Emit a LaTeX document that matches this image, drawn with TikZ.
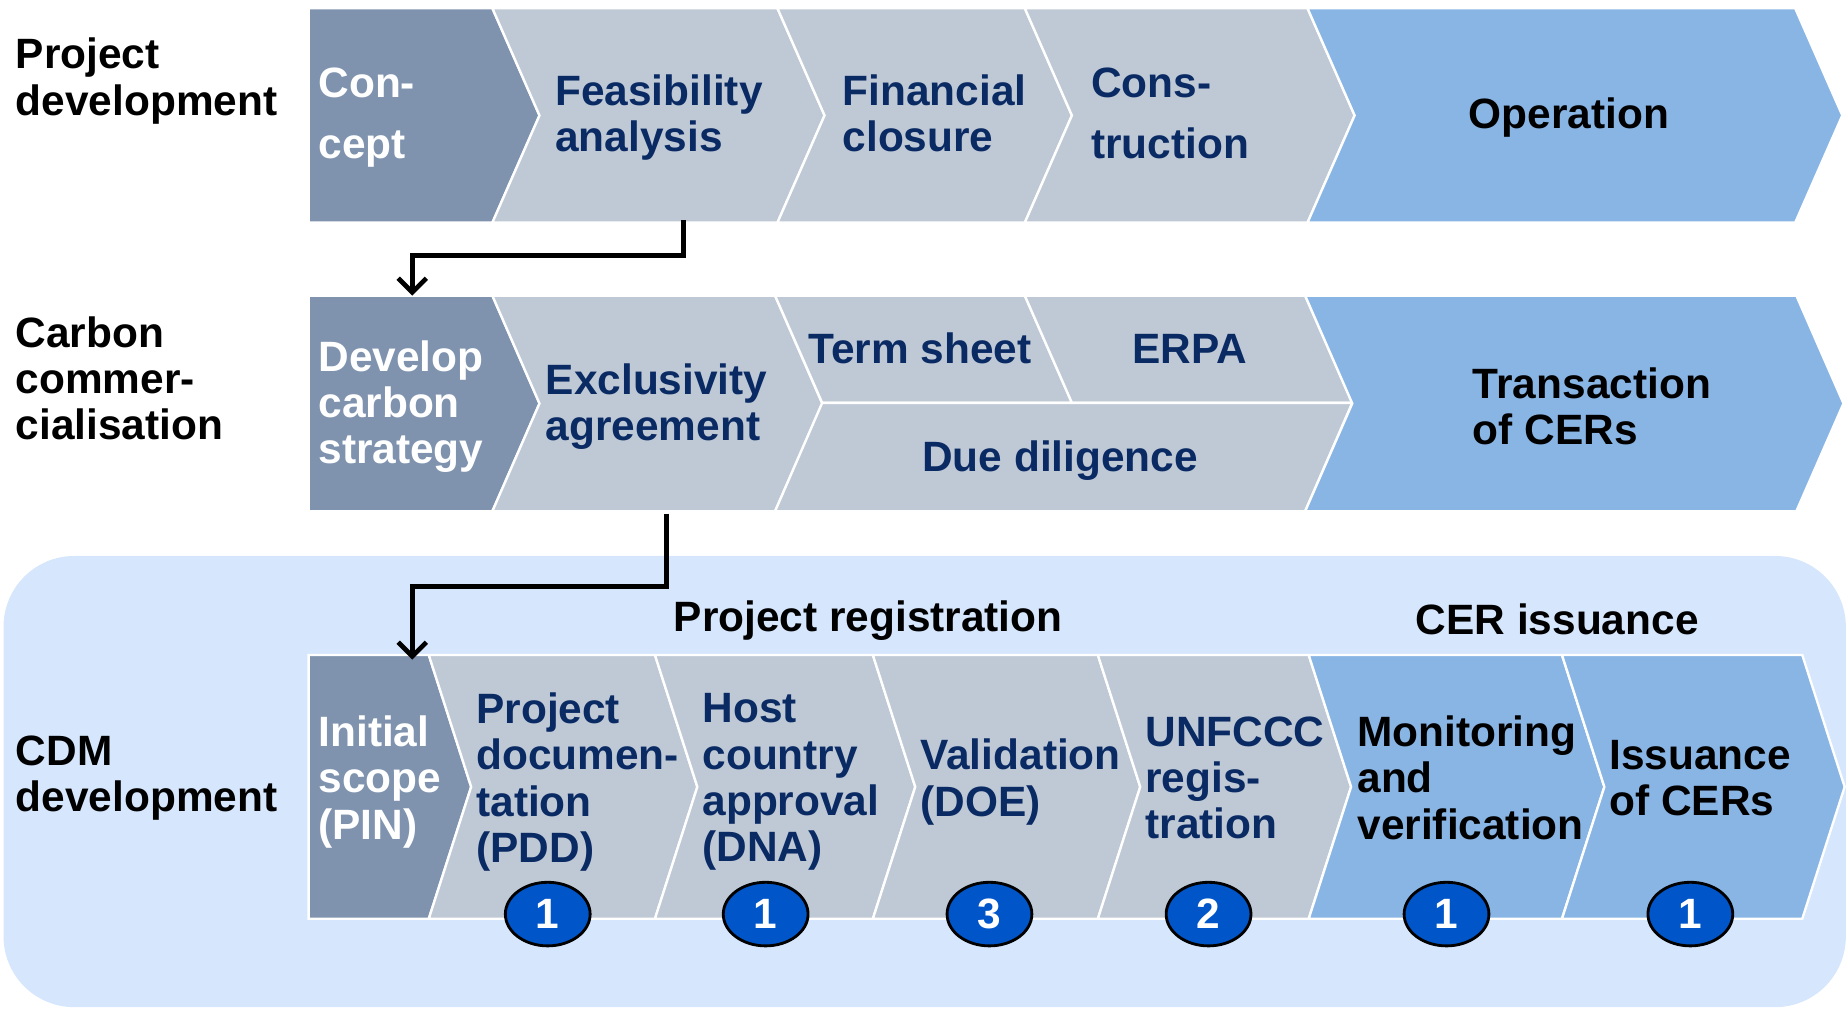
\documentclass[tikz,border=0pt]{standalone}
\usepackage{fontspec}
\setmainfont{Liberation Sans}
\usetikzlibrary{arrows.meta,shapes.geometric}

\definecolor{slate}{RGB}{127,147,175}
\definecolor{mist}{RGB}{191,201,214}
\definecolor{sky}{RGB}{137,181,229}
\definecolor{pale}{RGB}{214,230,252}
\definecolor{navy}{RGB}{10,42,100}
\definecolor{badgeblue}{RGB}{0,85,200}

% chevron with notched left side: style, left x, right x, top y, bottom y
\newcommand{\chev}[5]{\filldraw[#1] (#2,#4) -- (#3,#4) -- ({#3+\dep},{(#4+#5)/2}) -- (#3,#5) -- (#2,#5) -- ({#2+\dep},{(#4+#5)/2}) -- cycle;}
% first chevron of a row, straight left side
\newcommand{\chevfirst}[5]{\filldraw[#1] (#2,#4) -- (#3,#4) -- ({#3+\dep},{(#4+#5)/2}) -- (#3,#5) -- (#2,#5) -- cycle;}

\tikzset{
  stage/.style={draw=white, line width=1pt},
  lbl/.style={align=left, inner sep=0pt, anchor=west,
    execute at begin node=\strut, execute at end node=\strut},
  ondark/.style={lbl, text=white},
  ongrey/.style={lbl, text=navy},
  onblue/.style={lbl, text=black},
  badge/.style={ellipse, fill=badgeblue, draw=black, line width=1.2pt,
    minimum width=36pt, minimum height=27pt, inner sep=0pt, text=white},
  flow/.style={line width=2pt, -{Straight Barb[length=6pt,width=12pt,line width=2pt]}},
}

\begin{document}
\begin{tikzpicture}[x=0.5pt, y=-0.5pt, font=\fontsize{18}{19.6}\selectfont\bfseries]
\useasboundingbox (0,0) rectangle (1568,856);

% CDM panel
\fill[pale, rounded corners=30pt] (3,472) rectangle (1567,855);

% row 1: project development
\def\dep{40}
\chevfirst{stage, fill=slate}{262}{418}{7}{189}
\chev{stage, fill=mist}{418}{660}{7}{189}
\chev{stage, fill=mist}{660}{870}{7}{189}
\chev{stage, fill=mist}{870}{1110}{7}{189}
\chev{stage, fill=sky}{1110}{1524}{7}{189}

% row 2: carbon commercialisation
\chevfirst{stage, fill=slate}{262}{418}{251}{434}
\chev{stage, fill=mist}{418}{658}{251}{434}
\filldraw[stage, fill=mist] (658,251) -- (870,251) -- (910,342) -- (698,342) -- cycle;
\filldraw[stage, fill=mist] (870,251) -- (1108,251) -- (1148,342) -- (910,342) -- cycle;
\filldraw[stage, fill=mist] (698,342) -- (1148,342) -- (1108,434) -- (658,434) -- cycle;
\chev{stage, fill=sky}{1108}{1525}{251}{434}

% row 3: CDM development
\def\dep{36}
\chevfirst{stage, fill=slate}{262}{364}{556}{780}
\chev{stage, fill=mist}{364}{556}{556}{780}
\chev{stage, fill=mist}{556}{741}{556}{780}
\chev{stage, fill=mist}{741}{932}{556}{780}
\chev{stage, fill=mist}{932}{1111}{556}{780}
\chev{stage, fill=sky}{1111}{1326}{556}{780}
\chev{stage, fill=sky}{1326}{1530}{556}{780}

% row titles
\node[onblue] (rowPD) at (13,71) {Project\\development};
\node[onblue] (rowCC) at (13,327) {Carbon\\commer-\\cialisation};
\node[onblue] (rowCDM) at (13,663) {CDM\\development};

% stage texts
\node[ondark] (concept) at (270,102) {Con-\\[6pt]cept};
\node[ongrey] (feas) at (471,102) {Feasibility\\analysis};
\node[ongrey] (finclose) at (715,102) {Financial\\closure};
\node[ongrey] (constr) at (926,102) {Cons-\\[6pt]truction};
\node[text=black] (oper) at (1332,100) {Operation};

\node[ondark] (strategy) at (270,347) {Develop\\carbon\\strategy};
\node[ongrey] (excl) at (463,347) {Exclusivity\\agreement};
\node[text=navy] (termsheet) at (781,296) {Term sheet};
\node[text=navy] (erpa) at (1010,296) {ERPA};
\node[text=navy] (duedil) at (900,391) {Due diligence};
\node[onblue] (trans) at (1250,351) {Transaction\\of CERs};

\node[ondark] (pin) at (270,666) {Initial\\scope\\(PIN)};
\node[ongrey] (pdd) at (404,666) {Project\\documen-\\tation\\(PDD)};
\node[ongrey] (dna) at (596,666) {Host\\country\\approval\\(DNA)};
\node[ongrey] (doe) at (781,666) {Validation\\(DOE)};
\node[ongrey] (unfccc) at (972,666) {UNFCCC\\regis-\\tration};
\node[onblue] (monit) at (1152,666) {Monitoring\\and\\verification};
\node[onblue] (issue) at (1366,666) {Issuance\\of CERs};

% phase headings
\node (regHead) at (737,527) {Project registration};
\node (cerHead) at (1322,526) {CER issuance};

% counts
\node[badge] (cntPdd) at (465,776) {1};
\node[badge] (cntDna) at (650,776) {1};
\node[badge] (cntDoe) at (840,776) {3};
\node[badge] (cntReg) at (1026,776) {2};
\node[badge] (cntMon) at (1228,776) {1};
\node[badge] (cntIss) at (1435,776) {1};

% hand-over arrows
\coordinate (feasOut) at (580,187);
\coordinate (elbowA) at (0,217);
\coordinate (stratIn) at (350,251);
\draw[flow] (feasOut) -- (feasOut |- elbowA) -| (stratIn);
\coordinate (exclOut) at (566,436);
\coordinate (elbowB) at (0,498);
\coordinate (pinIn) at (350,560);
\draw[flow] (exclOut) -- (exclOut |- elbowB) -| (pinIn);
\end{tikzpicture}
\end{document}
